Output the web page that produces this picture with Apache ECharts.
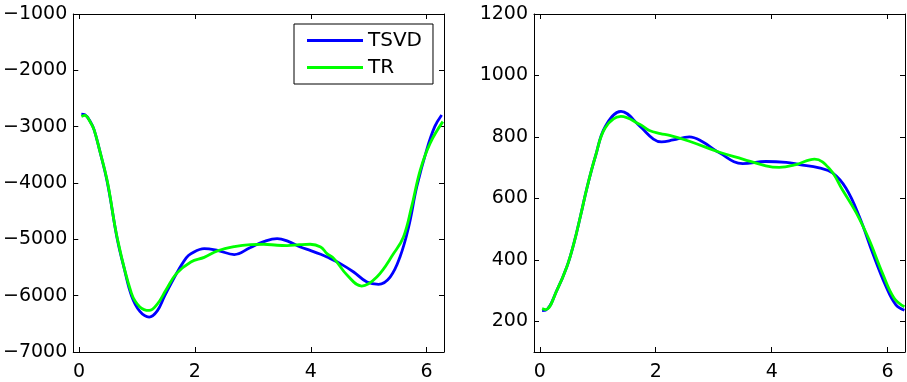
<!DOCTYPE html>
<html>
<head>
<meta charset="utf-8">
<script src="https://cdn.jsdelivr.net/npm/echarts@6/dist/echarts.min.js"></script>
<style>
  html, body { margin: 0; padding: 0; background: #fff; }
  #main { width: 907px; height: 382px; }
</style>
</head>
<body>
<div id="main"></div>
<script>
// left panel
const leftTsvdX = [0.04, 0.1, 0.2, 0.26, 0.35, 0.49, 0.66, 0.78, 0.905, 1.05, 1.21, 1.35, 1.48, 1.68, 1.85, 1.93, 2.16, 2.4, 2.68, 2.95, 3.19, 3.42, 3.62, 3.82, 4.0, 4.17, 4.28, 4.51, 4.74, 4.97, 5.17, 5.37, 5.54, 5.69, 5.83, 6.0, 6.14, 6.26];
const leftTsvdY = [-2780, -2790, -2920, -3056, -3400, -4000, -5000, -5520, -6000, -6280, -6380, -6270, -6000, -5610, -5330, -5256, -5164, -5200, -5270, -5150, -5040, -4986, -5040, -5135, -5200, -5265, -5313, -5431, -5580, -5758, -5799, -5669, -5313, -4779, -4067, -3415, -3000, -2792];
const leftTrX = [0.04, 0.1, 0.2, 0.26, 0.35, 0.49, 0.66, 0.905, 1.05, 1.21, 1.35, 1.5, 1.68, 1.93, 2.16, 2.39, 2.68, 2.96, 3.19, 3.42, 3.59, 3.8, 3.99, 4.17, 4.28, 4.4, 4.63, 4.88, 5.14, 5.43, 5.6, 5.74, 5.89, 6.06, 6.28];
const leftTrY = [-2820, -2800, -2930, -3056, -3400, -3980, -4980, -5960, -6200, -6262, -6150, -5900, -5609, -5402, -5320, -5206, -5130, -5093, -5087, -5105, -5110, -5095, -5087, -5135, -5253, -5342, -5639, -5829, -5669, -5253, -4957, -4424, -3770, -3295, -2911];

// right panel
const rightTsvdX = [0.04, 0.1, 0.3, 0.47, 0.59, 0.7, 0.82, 0.96, 1.13, 1.4, 1.73, 1.96, 2.1, 2.3, 2.58, 2.8, 3.1, 3.5, 3.9, 4.25, 4.48, 4.82, 5.05, 5.28, 5.51, 5.74, 5.97, 6.14, 6.29];
const rightTsvdY = [235, 236, 303, 379, 455, 541, 639, 737, 834, 883, 834, 793, 784, 790, 800, 785, 748, 713, 720, 717, 710, 699, 683, 634, 542, 423, 314, 254, 236];
const rightTrX = [0.04, 0.1, 0.3, 0.47, 0.59, 0.7, 0.82, 0.96, 1.13, 1.4, 1.73, 1.89, 2.08, 2.24, 2.58, 3.1, 3.5, 3.9, 4.13, 4.42, 4.74, 5.0, 5.22, 5.46, 5.68, 5.91, 6.11, 6.29];
const rightTrY = [241, 238, 303, 379, 455, 541, 639, 737, 830, 867, 840, 821, 811, 805, 786, 750, 728, 706, 701, 710, 728, 696, 628, 553, 466, 357, 276, 247];

const xTicks = [0, 2, 4, 6];
const leftYTicks = [-7000, -6000, -5000, -4000, -3000, -2000, -1000];
const rightYTicks = [200, 400, 600, 800, 1000, 1200];

const chart = echarts.init(document.getElementById('main'));

const pairs = (xs, ys) => xs.map((x, i) => [x, ys[i]]);
const fmt = v => String(v).replace('-', '\u2212');
const fontFamily = 'DejaVu Sans, sans-serif';

function xAxes(gridIndex) {
  const base = {
    type: 'value', gridIndex, min: -0.1, max: 6.3,
    axisLine: { show: true, onZero: false, lineStyle: { color: '#000', width: 1 } },
    axisTick: { show: true, inside: true, length: 5, customValues: xTicks, lineStyle: { color: '#000' } },
    splitLine: { show: false }
  };
  return [
    Object.assign({}, base, {
      position: 'bottom',
      axisLabel: { customValues: xTicks, color: '#000', fontSize: 19, fontFamily, margin: 11, formatter: fmt }
    }),
    Object.assign({}, base, { position: 'top', axisLabel: { show: false } })
  ];
}

function yAxes(gridIndex, min, max, ticks) {
  const base = {
    type: 'value', gridIndex, min, max,
    axisLine: { show: true, onZero: false, lineStyle: { color: '#000', width: 1 } },
    axisTick: { show: true, inside: true, length: 5, customValues: ticks, lineStyle: { color: '#000' } },
    splitLine: { show: false }
  };
  return [
    Object.assign({}, base, {
      position: 'left',
      axisLabel: { customValues: ticks, color: '#000', fontSize: 19, fontFamily, margin: 6, formatter: fmt }
    }),
    Object.assign({}, base, { position: 'right', axisLabel: { show: false } })
  ];
}

function line(name, color, data, xi, yi) {
  return {
    name, type: 'line', data, xAxisIndex: xi, yAxisIndex: yi,
    smooth: 0.4, showSymbol: false, symbol: 'none',
    lineStyle: { color, width: 2.8 }, itemStyle: { color },
    animation: false
  };
}

chart.setOption({
  animation: false,
  grid: [
    { left: 72, right: 463, top: 14, bottom: 30 },
    { left: 534, right: 2, top: 14, bottom: 30 }
  ],
  legend: {
    orient: 'vertical', left: 294, top: 24,
    data: ['TSVD', 'TR'],
    icon: 'rect', itemWidth: 56, itemHeight: 3, itemGap: 6,
    padding: [6, 11, 6, 13],
    borderColor: '#000', borderWidth: 1, backgroundColor: '#fff',
    textStyle: { color: '#000', fontSize: 20, fontFamily, lineHeight: 21 }
  },
  xAxis: [...xAxes(0), ...xAxes(1)],
  yAxis: [...yAxes(0, -7000, -1000, leftYTicks), ...yAxes(1, 100, 1200, rightYTicks)],
  series: [
    line('TSVD', '#0000ff', pairs(leftTsvdX, leftTsvdY), 0, 0),
    line('TR', '#00ff00', pairs(leftTrX, leftTrY), 0, 0),
    line('TSVD', '#0000ff', pairs(rightTsvdX, rightTsvdY), 2, 2),
    line('TR', '#00ff00', pairs(rightTrX, rightTrY), 2, 2)
  ]
});
</script>
</body>
</html>
